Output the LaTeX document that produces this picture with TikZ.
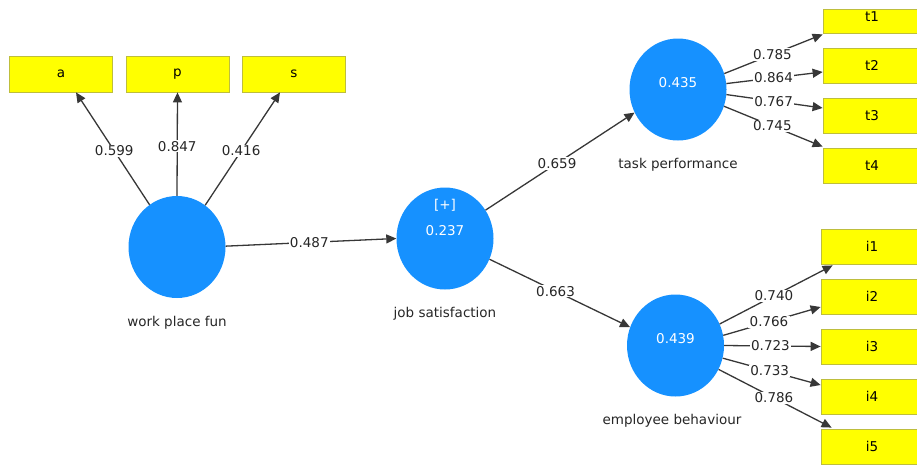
\documentclass[tikz,border=0pt]{standalone}
\usepackage{fontspec}
\setmainfont{DejaVu Sans}
\usetikzlibrary{shapes.geometric,arrows.meta}
\definecolor{lvblue}{RGB}{22,145,255}
\definecolor{mvyellow}{RGB}{255,255,0}
\definecolor{mvborder}{RGB}{190,190,60}
\definecolor{edgegray}{RGB}{55,55,55}
\tikzset{
  lv/.style={ellipse, fill=lvblue, draw=none, minimum width=97pt, minimum height=102pt, inner sep=0pt},
  mv/.style={rectangle, fill=mvyellow, draw=mvborder, line width=0.8pt, minimum width=103pt, minimum height=36pt, inner sep=0pt, font=\fontsize{13.5}{15}\selectfont},
  mvr/.style={mv, minimum width=98pt, minimum height=35pt},
  val/.style={text=white, font=\fontsize{13.5}{15}\selectfont, inner sep=0pt},
  lvcaption/.style={text=black!85, font=\fontsize{13.5}{15}\selectfont, inner sep=0pt},
  conn/.style={draw=edgegray, line width=1.3pt, -{Triangle[length=10pt,width=9pt]}},
  lbl/.style={fill=white, inner sep=1.2pt, text=black!85, font=\fontsize{13.5}{15}\selectfont}
}
\begin{document}
\begin{tikzpicture}[x=1pt,y=-1pt]
\useasboundingbox (0,0) rectangle (917,466);
% indicator boxes
\node[mv] (a) at (61,74) {a};
\node[mv] (p) at (177.5,74) {p};
\node[mv] (s) at (294,74) {s};
\node[mvr, minimum height=24pt] (t1) at (872,21) {};
\node[font=\fontsize{13.5}{15}\selectfont, inner sep=0pt] (t1t) at (872,17) {t1};
\node[mvr] (t2) at (872,65.5) {t2};
\node[mvr] (t3) at (872,115.5) {t3};
\node[mvr] (t4) at (872,165.5) {t4};
\node[mvr, minimum width=102pt] (i1) at (872,246.5) {i1};
\node[mvr, minimum width=102pt] (i2) at (872,296.5) {i2};
\node[mvr, minimum width=102pt] (i3) at (872,346.5) {i3};
\node[mvr, minimum width=102pt] (i4) at (872,396.5) {i4};
\node[mvr, minimum width=102pt] (i5) at (872,446.5) {i5};
% latent variables
\node[lv] (wpf) at (177,247) {};
\node[lv] (js) at (445,238.5) {};
\node[lv] (tp) at (678,89.5) {};
\node[lv] (eb) at (675.5,345.5) {};
\node[val] (jsplus) at (445,205) {[+]};
\node[val] (jsv) at (445,231) {0.237};
\node[val] (tpv) at (678,83) {0.435};
\node[val] (ebv) at (675.5,339) {0.439};
% captions
\node[lvcaption] (wpfc) at (177,323) {work place fun};
\node[lvcaption] (jsc) at (445,314) {job satisfaction};
\node[lvcaption] (tpc) at (678,165) {task performance};
\node[lvcaption] (ebc) at (672,421) {employee behaviour};
% outer model work place fun
\draw[conn] (wpf.123.7) -- node[lbl, pos=0.48] {0.599} ([xshift=15pt]a.south);
\draw[conn] (wpf.90) -- node[lbl, pos=0.48] {0.847} (p.south);
\draw[conn] (wpf.56.3) -- node[lbl, pos=0.48] {0.416} ([xshift=-14pt]s.south);
% inner model
\draw[conn] (wpf.1) -- node[lbl, pos=0.49] {0.487} (js.west);
\draw[conn] (js.35.5) -- node[lbl, pos=0.48] {0.659} (tp.208.2);
\draw[conn] (js.-25.5) -- node[lbl, pos=0.47] {0.663} (eb.158.5);
% outer model task performance
\draw[conn] (tp.19.7) -- node[lbl, pos=0.49] {0.785} ([yshift=-1pt]t1.south west);
\draw[conn] (tp.7.7) -- node[lbl, pos=0.49] {0.864} ([yshift=-6.5pt]t2.west);
\draw[conn] (tp.-6.7) -- node[lbl, pos=0.49] {0.767} ([yshift=7.5pt]t3.west);
\draw[conn] (tp.-20.8) -- node[lbl, pos=0.49] {0.745} ([yshift=1pt]t4.north west);
% outer model employee behaviour
\draw[conn] (eb.26.8) -- node[lbl, pos=0.48] {0.740} ([xshift=12pt,yshift=-1pt]i1.south west);
\draw[conn] (eb.12.5) -- node[lbl, pos=0.47] {0.766} ([yshift=-10.5pt]i2.west);
\draw[conn] (eb.0) -- node[lbl, pos=0.48] {0.723} (i3.west);
\draw[conn] (eb.-15) -- node[lbl, pos=0.48] {0.733} ([yshift=11.5pt]i4.west);
\draw[conn] (eb.-29) -- node[lbl, pos=0.49] {0.786} ([xshift=11pt,yshift=1pt]i5.north west);
\end{tikzpicture}
\end{document}
